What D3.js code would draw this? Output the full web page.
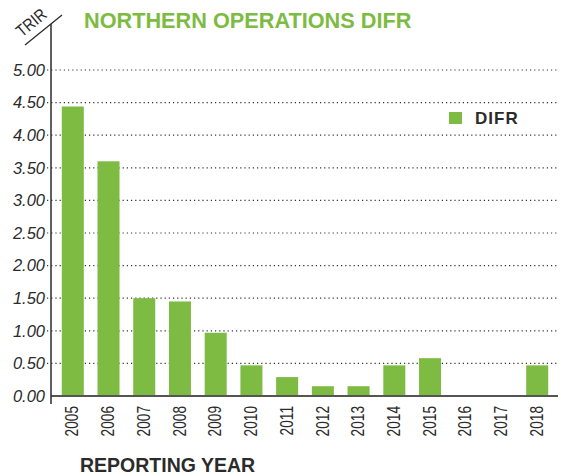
<!DOCTYPE html>
<html>
<head>
<meta charset="utf-8">
<script src="https://cdn.jsdelivr.net/npm/d3@7"></script>
<style>
  body { margin: 0; background: #fff; }
  svg text { font-family: "Liberation Sans", Arial, sans-serif; }
</style>
</head>
<body>
<svg id="chart" width="561" height="476"></svg>
<script>
// chart data
const years = ['2005', '2006', '2007', '2008', '2009', '2010', '2011', '2012', '2013', '2014', '2015', '2016', '2017', '2018']
const difr = [4.44, 3.60, 1.50, 1.45, 0.97, 0.47, 0.29, 0.15, 0.15, 0.47, 0.58, 0, 0, 0.47]
const y_ticks = [0, 0.5, 1, 1.5, 2, 2.5, 3, 3.5, 4, 4.5, 5]

const green = '#7dbb42'
const ink = '#2b2b2b'

const svg = d3.select('#chart')

const x = d3.scaleBand()
  .domain(years)
  .range([55, 555])
  .paddingInner(0.384)
  .paddingOuter(0.19)

const y = d3.scaleLinear()
  .domain([0, 5])
  .range([396, 70])

// dotted grid lines
svg.append('g')
  .selectAll('line')
  .data(y_ticks.filter(d => d > 0))
  .join('line')
  .attr('x1', 47)
  .attr('x2', 558)
  .attr('y1', d => y(d))
  .attr('y2', d => y(d))
  .attr('stroke', '#333')
  .attr('stroke-width', 1.2)
  .attr('stroke-dasharray', '1.2,3')

// bars
svg.append('g')
  .selectAll('rect')
  .data(difr)
  .join('rect')
  .attr('x', (d, i) => x(years[i]))
  .attr('y', d => y(d))
  .attr('width', x.bandwidth())
  .attr('height', d => y(0) - y(d))
  .attr('fill', green)

// y axis labels
const yAxis = d3.axisLeft(y)
  .tickValues(y_ticks)
  .tickFormat(d3.format('.2f'))
  .tickSize(0)
  .tickPadding(0)
const gy = svg.append('g')
  .attr('transform', 'translate(45,0)')
  .call(yAxis)
gy.select('.domain').remove()
gy.selectAll('text')
  .attr('font-size', 16.5)
  .attr('font-style', 'italic')
  .attr('fill', ink)
  .attr('font-family', '"Liberation Sans", Arial, sans-serif')

// x axis labels (narrow, tall glyphs like the original)
const xAxis = d3.axisBottom(x).tickSize(0).tickPadding(0)
const gx = svg.append('g')
  .attr('transform', 'translate(0,406)')
  .call(xAxis)
gx.select('.domain').remove()
gx.selectAll('text')
  .attr('font-size', 19)
  .attr('fill', ink)
  .attr('font-family', '"Liberation Sans", Arial, sans-serif')
  .attr('transform', 'rotate(-90) scale(0.72,1)')
  .attr('text-anchor', 'end')
  .attr('x', 0)
  .attr('y', 0)
  .attr('dy', '0.3em')

// baseline
svg.append('line')
  .attr('x1', 51).attr('x2', 558)
  .attr('y1', y(0)).attr('y2', y(0))
  .attr('stroke', '#555')
  .attr('stroke-width', 2)

// vertical axis line
svg.append('line')
  .attr('x1', 51).attr('x2', 51)
  .attr('y1', 24).attr('y2', 404)
  .attr('stroke', ink)
  .attr('stroke-width', 1.5)

// diagonal header line + TRIR label
svg.append('line')
  .attr('x1', 25).attr('y1', 45)
  .attr('x2', 62).attr('y2', 15)
  .attr('stroke', ink)
  .attr('stroke-width', 1.3)
svg.append('text')
  .attr('transform', 'translate(35,27) rotate(-40) scale(0.85,1)')
  .attr('text-anchor', 'middle')
  .attr('font-size', 17)
  .attr('fill', ink)
  .text('TRIR')

// title
svg.append('text')
  .attr('x', 84)
  .attr('y', 28)
  .attr('font-size', 21.7)
  .attr('font-weight', 'bold')
  .attr('fill', green)
  .text('NORTHERN OPERATIONS DIFR')

// legend
svg.append('rect')
  .attr('x', 449).attr('y', 112)
  .attr('width', 13).attr('height', 12)
  .attr('fill', green)
svg.append('text')
  .attr('x', 475).attr('y', 124)
  .attr('font-size', 17)
  .attr('font-weight', 'bold')
  .attr('letter-spacing', 1)
  .attr('fill', ink)
  .text('DIFR')

// x axis title
svg.append('text')
  .attr('x', 80).attr('y', 472)
  .attr('font-size', 19.5)
  .attr('font-weight', 'bold')
  .attr('fill', ink)
  .text('REPORTING YEAR')
</script>
</body>
</html>
